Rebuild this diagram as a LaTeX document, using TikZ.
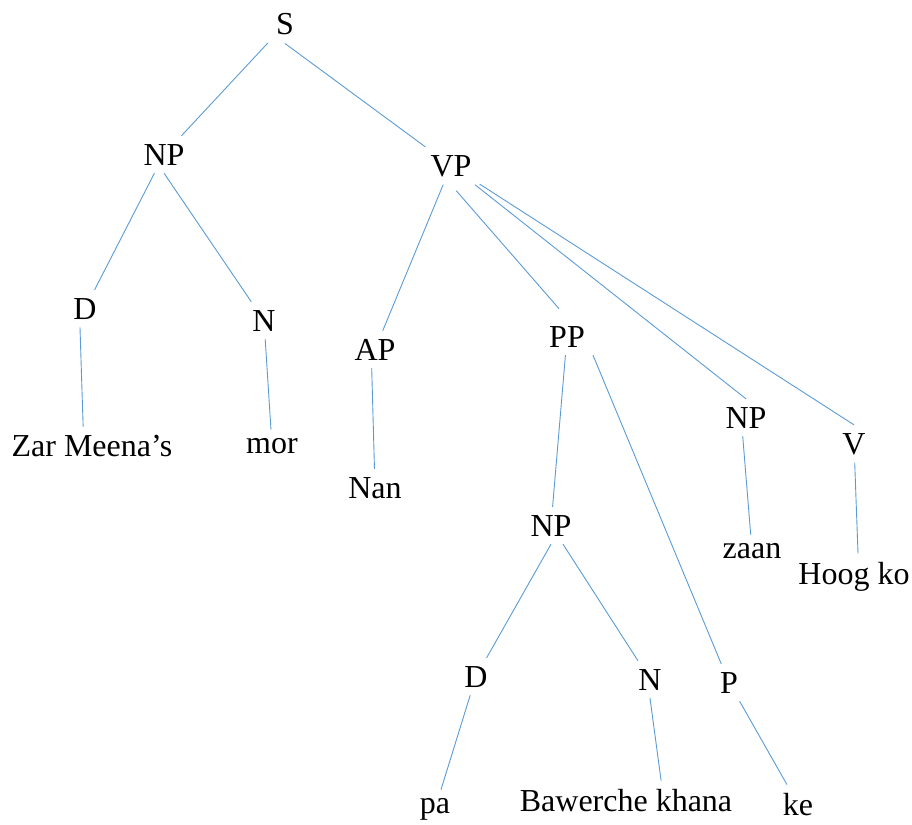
\documentclass[tikz,border=0pt]{standalone}
\usepackage{fontspec}
\setmainfont{Liberation Serif}
\usepackage{tikz}
\definecolor{treeblue}{RGB}{91,155,213}

\begin{document}
\begin{tikzpicture}[x=1pt,y=-1pt,every node/.style={anchor=base,inner sep=8pt,font=\fontsize{32}{38}\selectfont},
	link/.style={draw=treeblue,line width=0.9pt}]
	%% page size
	\useasboundingbox (0,0) rectangle (912,824);

	% top of the tree
	\node (s) at (285,35) {S};
	\node (np1) at (164,165) {NP};
	\node (vp) at (451,176) {VP};

	% phrase level
	\node (d1) at (85,319) {D};
	\node (n1) at (264,331) {N};
	\node (ap) at (375,360) {AP};
	\node (pp) at (567,347) {PP};
	\node (np2) at (746,428) {NP};
	\node (v) at (854,454) {V};
	\node (np3) at (551,536) {NP};
	\node (d2) at (476,687) {D};
	\node (n2) at (650,690) {N};
	\node (p) at (729,693) {P};

	% words
	\node (zar) at (92,456) {Zar Meena’s};
	\node (mor) at (272,453) {mor};
	\node (nan) at (375,498) {Nan};
	\node (zaan) at (752,558) {zaan};
	\node (hoog) at (854,584) {Hoog ko};
	\node (pa) at (435,813) {pa};
	\node (baw) at (626,811) {Bawerche khana};
	\node (ke) at (798,815) {ke};

	\draw[link] (s) -- (np1);
	\draw[link] (s.south) -- (vp);
	\draw[link] (np1) -- (d1);
	\draw[link] (np1.south) -- (n1);
	\draw[link] (vp) -- (ap);
	\draw[link,shorten <=8pt,shorten >=12pt] (vp.south) -- (pp.north);
	\draw[link] (vp) -- (np2.north);
	\draw[link] (vp) -- (v.north);
	\draw[link] (d1.-105) -- (zar.115);
	\draw[link] (n1) -- (mor);
	\draw[link] (ap.-100) -- (nan);
	\draw[link] (pp) -- (np3);
	\draw[link] (pp.south east) -- (p);
	\draw[link] (np2.-100) -- (zaan);
	\draw[link] (v) -- (hoog.80);
	\draw[link] (np3.south) -- (d2);
	\draw[link] (np3) -- (n2);
	\draw[link] (d2) -- (pa);
	\draw[link] (n2.south) -- (baw.29);
	\draw[link] (p) -- (ke);
\end{tikzpicture}
\end{document}
